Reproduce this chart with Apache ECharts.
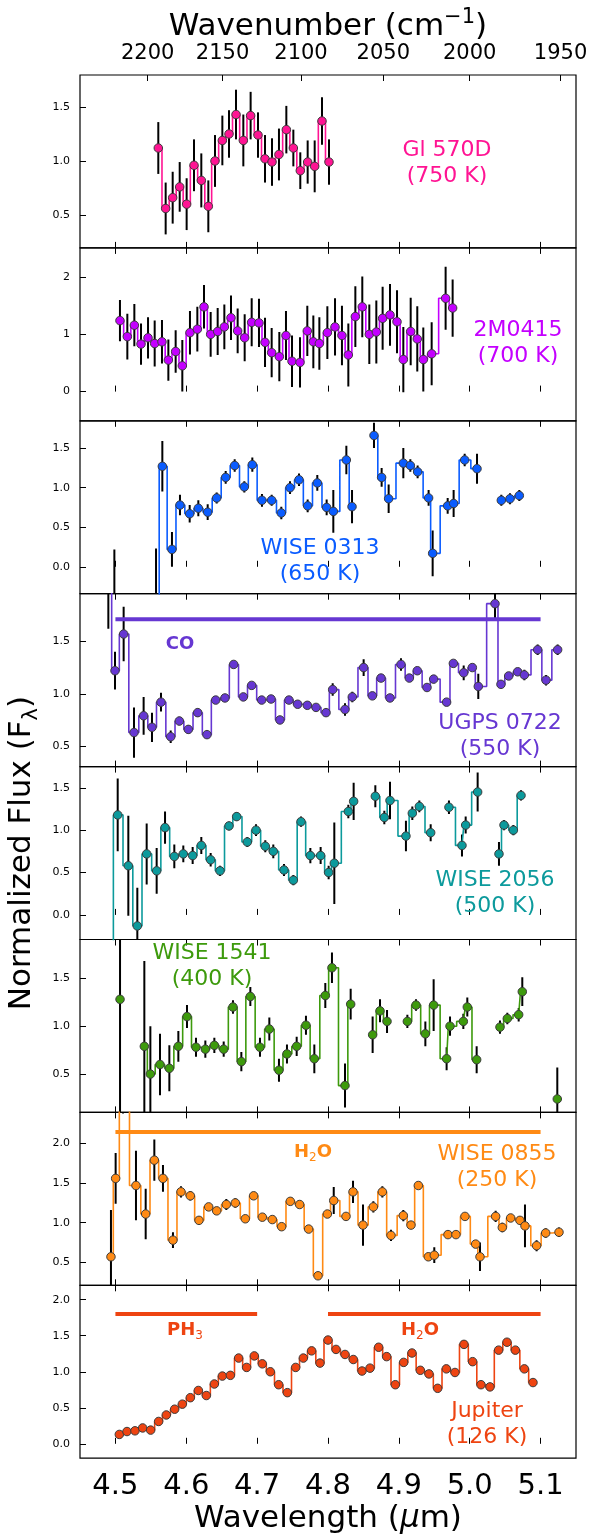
<!DOCTYPE html>
<html><head><meta charset="utf-8">
<script src="https://cdn.jsdelivr.net/npm/echarts@6/dist/echarts.min.js"></script>
<style>html,body{margin:0;padding:0;background:#fff}#chart{width:592px;height:1537px}</style>
</head><body><div id="chart"></div>
<script>
// ---------------- data (wavelength in micron, normalized flux, 1-sigma error; null = gap) ----------------
const gl570dWave = [4.5605, 4.5709, 4.5808, 4.5907, 4.6005, 4.6109, 4.6212, 4.6311, 4.6405, 4.6509, 4.6603, 4.6702, 4.6805, 4.6908, 4.7012, 4.7111, 4.7210, 4.7308, 4.7412, 4.7511, 4.7609, 4.7713, 4.7812, 4.7915, 4.8014];
const gl570dFlux = [1.12, 0.56, 0.66, 0.76, 0.60, 0.96, 0.82, 0.58, 1.00, 1.19, 1.25, 1.43, 1.19, 1.42, 1.24, 1.02, 0.99, 1.06, 1.29, 1.12, 0.91, 0.99, 0.95, 1.37, 0.99];
const gl570dErr  = [0.24, 0.24, 0.24, 0.23, 0.24, 0.24, 0.25, 0.24, 0.24, 0.23, 0.22, 0.23, 0.24, 0.22, 0.21, 0.22, 0.22, 0.24, 0.22, 0.17, 0.17, 0.20, 0.24, 0.22, 0.21];

const m0415Wave = [4.5064, 4.5168, 4.5267, 4.5361, 4.5460, 4.5554, 4.5657, 4.5747, 4.5850, 4.5944, 4.6052, 4.6156, 4.6250, 4.6344, 4.6443, 4.6537, 4.6631, 4.6725, 4.6824, 4.6923, 4.7026, 4.7111, 4.7205, 4.7313, 4.7407, 4.7492, 4.7605, 4.7708, 4.7793, 4.7878, 4.7991, 4.8099, 4.8197, 4.8287, 4.8386, 4.8484, 4.8583, 4.8682, 4.8771, 4.8875, 4.8974, 4.9063, 4.9167, 4.9260, 4.9345, 4.9463, 4.9660, 4.9759];
const m0415Flux = [1.24, 0.96, 1.16, 0.83, 0.94, 0.84, 0.87, 0.55, 0.70, 0.45, 1.03, 1.09, 1.48, 1.00, 1.05, 1.13, 1.29, 1.06, 0.94, 1.21, 1.20, 0.86, 0.68, 0.61, 0.98, 0.53, 0.51, 1.06, 0.87, 0.84, 1.03, 1.13, 0.98, 0.64, 1.31, 1.48, 1.00, 1.04, 1.28, 1.34, 1.22, 0.56, 1.05, 0.92, 0.56, 0.66, 1.63, 1.46];
const m0415Err  = [0.36, 0.40, 0.37, 0.36, 0.36, 0.40, 0.38, 0.36, 0.37, 0.45, 0.38, 0.39, 0.38, 0.39, 0.41, 0.39, 0.39, 0.39, 0.41, 0.42, 0.42, 0.43, 0.43, 0.43, 0.43, 0.45, 0.44, 0.44, 0.46, 0.46, 0.46, 0.50, 0.52, 0.55, 0.53, 0.53, 0.52, 0.55, 0.55, 0.54, 0.55, 0.57, 0.59, 0.57, 0.56, 0.55, 0.55, 0.50];

const w0313Wave = [4.4985, 4.5573, 4.5662, 4.5798, 4.5911, 4.6048, 4.6170, 4.6302, 4.6429, 4.6556, 4.6683, 4.6819, 4.6932, 4.7068, 4.7205, 4.7341, 4.7464, 4.7591, 4.7713, 4.7849, 4.7981, 4.8075, 4.8259, 4.8339, null, 4.8649, 4.8757, 4.8856, 4.9063, 4.9162, 4.9265, 4.9420, 4.9477, 4.9689, 4.9773, 4.9929, 5.0103, null, 5.0446, 5.0568, 5.0700];
const w0313Flux = [-0.80, -0.70, 1.27, 0.22, 0.78, 0.67, 0.74, 0.69, 0.87, 1.13, 1.28, 1.01, 1.29, 0.84, 0.84, 0.68, 1.00, 1.10, 0.77, 1.06, 0.75, 0.70, 1.35, 0.76, null, 1.66, 1.13, 0.86, 1.31, 1.28, 1.20, 0.87, 0.17, 0.77, 0.80, 1.35, 1.24, null, 0.84, 0.86, 0.90];
const w0313Err  = [1.02, 0.93, 0.32, 0.22, 0.13, 0.11, 0.10, 0.10, 0.07, 0.08, 0.08, 0.07, 0.09, 0.08, 0.07, 0.08, 0.08, 0.08, 0.08, 0.10, 0.10, 0.27, 0.18, 0.21, null, 0.16, 0.12, 0.18, 0.19, 0.08, 0.08, 0.10, 0.29, 0.10, 0.17, 0.08, 0.19, null, 0.07, 0.07, 0.07];

const ugpsWave = [4.4900, 4.4994, 4.5116, 4.5262, 4.5398, 4.5516, 4.5643, 4.5780, 4.5902, 4.6029, 4.6161, 4.6292, 4.6415, 4.6546, 4.6669, 4.6805, 4.6923, 4.7064, 4.7196, 4.7322, 4.7449, 4.7572, 4.7708, 4.7831, 4.7972, 4.8066, 4.8240, 4.8343, 4.8503, 4.8626, 4.8748, 4.8875, 4.9030, 4.9148, 4.9260, 4.9397, 4.9491, 4.9674, 4.9769, 4.9915, 5.0037, 5.0121, 5.0357, 5.0441, 5.0550, 5.0677, 5.0771, 5.0959, 5.1077, 5.1241];
const ugpsFlux = [2.10, 1.22, 1.57, 0.63, 0.79, 0.68, 0.92, 0.59, 0.74, 0.66, 0.82, 0.61, 0.94, 0.96, 1.28, 0.97, 1.08, 0.94, 0.95, 0.75, 0.94, 0.90, 0.89, 0.87, 0.82, 1.04, 0.85, 0.97, 1.25, 0.98, 1.15, 0.96, 1.28, 1.15, 1.22, 1.06, 1.14, 0.92, 1.29, 1.20, 1.25, 1.07, 1.86, 1.09, 1.17, 1.21, 1.18, 1.42, 1.13, 1.42];
const ugpsErr  = [0.48, 0.18, 0.26, 0.24, 0.18, 0.14, 0.09, 0.06, 0.04, 0.04, 0.04, 0.04, 0.03, 0.03, 0.03, 0.03, 0.03, 0.03, 0.03, 0.03, 0.03, 0.03, 0.03, 0.03, 0.03, 0.06, 0.06, 0.05, 0.08, 0.03, 0.03, 0.03, 0.06, 0.03, 0.03, 0.03, 0.04, 0.03, 0.03, 0.07, 0.03, 0.12, 0.14, 0.03, 0.03, 0.03, 0.05, 0.05, 0.05, 0.05];

const w2056Wave = [4.4910, 4.5032, 4.5182, 4.5309, 4.5441, 4.5582, 4.5700, 4.5831, 4.5958, 4.6090, 4.6212, 4.6344, 4.6476, 4.6603, 4.6711, 4.6861, 4.6984, 4.7115, 4.7228, 4.7379, 4.7511, 4.7619, 4.7751, 4.7896, 4.8009, 4.8089, 4.8287, 4.8362, null, 4.8668, 4.8795, 4.8875, 4.9100, 4.9190, 4.9289, 4.9449, null, 4.9707, 4.9891, 4.9943, 5.0112, null, 5.0413, 5.0484, 5.0616, 5.0724];
const w2056Flux = [-0.60, 1.18, 0.58, -0.13, 0.72, 0.52, 1.03, 0.69, 0.72, 0.70, 0.82, 0.65, 0.52, 1.05, 1.16, 0.86, 1.00, 0.81, 0.75, 0.53, 0.41, 1.10, 0.70, 0.70, 0.50, 0.61, 1.22, 1.34, null, 1.40, 1.15, 1.35, 0.93, 1.20, 1.28, 0.97, null, 1.27, 0.82, 1.06, 1.45, null, 0.72, 1.06, 1.00, 1.41];
const w2056Err  = [0.20, 0.43, 0.59, 0.45, 0.36, 0.27, 0.19, 0.14, 0.10, 0.10, 0.10, 0.08, 0.06, 0.05, 0.05, 0.06, 0.07, 0.07, 0.08, 0.07, 0.06, 0.06, 0.09, 0.10, 0.08, 0.48, 0.08, 0.22, null, 0.13, 0.08, 0.22, 0.18, 0.08, 0.07, 0.10, null, 0.08, 0.13, 0.10, 0.23, null, 0.14, 0.06, 0.06, 0.06];

const w1541Wave = [4.5065, null, 4.5408, 4.5493, 4.5629, 4.5761, 4.5888, 4.6010, 4.6137, 4.6269, 4.6396, 4.6528, 4.6659, 4.6777, 4.6904, 4.7040, 4.7172, 4.7308, 4.7421, 4.7558, 4.7689, 4.7807, 4.7962, 4.8056, 4.8240, 4.8320, null, 4.8630, 4.8734, 4.8833, null, 4.9120, 4.9242, 4.9374, 4.9491, 4.9674, 4.9722, 4.9910, 4.9966, 5.0098, null, 5.0427, 5.0531, 5.0691, 5.0742, null, 5.1236];
const w1541Flux = [1.28, null, 0.79, 0.50, 0.60, 0.56, 0.79, 1.10, 0.78, 0.76, 0.80, 0.76, 1.20, 0.63, 1.31, 0.78, 0.97, 0.54, 0.71, 0.79, 1.01, 0.66, 1.32, 1.61, 0.38, 1.23, null, 0.91, 1.16, 1.05, null, 1.05, 1.22, 0.92, 1.22, 0.66, 1.00, 1.05, 1.20, 0.65, null, 0.99, 1.08, 1.12, 1.36, null, 0.24];
const w1541Err  = [1.20, null, 0.89, 0.50, 0.32, 0.24, 0.16, 0.12, 0.10, 0.09, 0.08, 0.08, 0.07, 0.10, 0.10, 0.10, 0.12, 0.12, 0.10, 0.10, 0.10, 0.15, 0.13, 0.16, 0.23, 0.16, null, 0.19, 0.12, 0.12, null, 0.07, 0.06, 0.13, 0.27, 0.12, 0.10, 0.08, 0.10, 0.14, null, 0.07, 0.06, 0.07, 0.15, null, 0.33];

const w0855Wave = [4.4937, 4.5003, 4.5107, 4.5290, 4.5427, 4.5549, 4.5671, 4.5812, 4.5925, 4.6057, 4.6179, 4.6316, 4.6429, 4.6565, 4.6692, 4.6833, 4.6951, 4.7073, 4.7214, 4.7346, 4.7468, 4.7600, 4.7727, 4.7859, 4.7991, 4.8081, 4.8254, 4.8353, 4.8494, 4.8640, 4.8767, 4.8889, 4.9063, 4.9171, 4.9275, 4.9416, 4.9500, 4.9693, 4.9806, 4.9933, 5.0084, 5.0145, 5.0366, 5.0460, 5.0578, 5.0709, 5.0780, 5.0944, 5.1072, 5.1260];
const w0855Flux = [0.57, 1.56, 3.00, 1.47, 1.11, 1.79, 1.56, 0.78, 1.39, 1.34, 1.03, 1.20, 1.15, 1.23, 1.25, 1.05, 1.34, 1.07, 1.04, 0.95, 1.27, 1.23, 0.92, 0.33, 1.11, 1.28, 1.08, 1.39, 0.97, 1.20, 1.39, 0.84, 1.09, 0.97, 1.47, 0.57, 0.59, 0.85, 0.85, 1.08, 0.73, 0.57, 1.08, 0.94, 1.06, 1.03, 0.96, 0.71, 0.87, 0.88];
const w0855Err  = [0.59, 0.32, 0.62, 0.44, 0.32, 0.26, 0.17, 0.10, 0.07, 0.06, 0.05, 0.04, 0.04, 0.07, 0.06, 0.04, 0.04, 0.04, 0.04, 0.04, 0.04, 0.04, 0.04, 0.04, 0.04, 0.17, 0.04, 0.14, 0.26, 0.07, 0.07, 0.07, 0.07, 0.05, 0.04, 0.05, 0.10, 0.04, 0.04, 0.04, 0.05, 0.18, 0.07, 0.06, 0.04, 0.04, 0.27, 0.07, 0.06, 0.06];

const jupiterWave = [4.5055, 4.5163, 4.5276, 4.5384, 4.5497, 4.5610, 4.5718, 4.5836, 4.5944, 4.6057, 4.6170, 4.6283, 4.6396, 4.6509, 4.6622, 4.6739, 4.6852, 4.6960, 4.7073, 4.7186, 4.7304, 4.7426, 4.7544, 4.7652, 4.7769, 4.7887, 4.8000, 4.8113, 4.8240, 4.8357, 4.8480, 4.8593, 4.8715, 4.8828, 4.8950, 4.9068, 4.9185, 4.9303, 4.9425, 4.9548, 4.9670, 4.9792, 4.9919, 5.0041, 5.0159, 5.0286, 5.0408, 5.0526, 5.0644, 5.0771, 5.0893];
const jupiterFlux = [0.13, 0.17, 0.18, 0.22, 0.19, 0.31, 0.40, 0.48, 0.55, 0.64, 0.74, 0.67, 0.83, 0.94, 0.95, 1.19, 1.06, 1.22, 1.11, 1.00, 0.82, 0.71, 1.06, 1.19, 1.29, 1.12, 1.44, 1.31, 1.24, 1.17, 1.01, 1.05, 1.34, 1.21, 0.82, 1.13, 1.26, 1.02, 0.97, 0.77, 1.04, 0.99, 1.38, 1.14, 0.82, 0.79, 1.30, 1.41, 1.30, 1.04, 0.85];
const jupiterErr  = [0.02, 0.02, 0.02, 0.02, 0.02, 0.02, 0.02, 0.02, 0.02, 0.02, 0.02, 0.02, 0.02, 0.02, 0.02, 0.02, 0.02, 0.02, 0.02, 0.02, 0.02, 0.02, 0.02, 0.02, 0.02, 0.02, 0.02, 0.02, 0.02, 0.02, 0.02, 0.02, 0.02, 0.02, 0.02, 0.02, 0.02, 0.02, 0.02, 0.02, 0.02, 0.02, 0.02, 0.02, 0.02, 0.02, 0.02, 0.02, 0.02, 0.02, 0.02];

// absorption band markers: [start, end] wavelength and flux level
const coBandRange = [4.5, 5.1];        const coBandLevel = 1.71;
const h2oBand0855Range = [4.5, 5.1];   const h2oBand0855Level = 2.145;
const ph3BandRange = [4.5, 4.7];       const ph3BandLevel = 1.80;
const h2oBandJupRange = [4.8, 5.1];    const h2oBandJupLevel = 1.80;

// tick labels
const xTickValues = [4.5, 4.6, 4.7, 4.8, 4.9, 5.0, 5.1];
const wavenumberTicks = [2200, 2150, 2100, 2050, 2000, 1950];
const yTicksGl570d = [0.5, 1.0, 1.5];
const yTicks0415 = [0, 1, 2];
const yTicks0313 = [0.0, 0.5, 1.0, 1.5];
const yTicksUgps = [0.5, 1.0, 1.5];
const yTicks2056 = [0.0, 0.5, 1.0, 1.5];
const yTicks1541 = [0.5, 1.0, 1.5];
const yTicks0855 = [0.5, 1.0, 1.5, 2.0];
const yTicksJupiter = [0.0, 0.5, 1.0, 1.5, 2.0];

// ---------------- layout & style ----------------
const FONT = 'DejaVu Sans';
const X_MIN = 4.45, X_MAX = 5.15;
const GRID_LEFT = 80, GRID_WIDTH = 496, GRID_TOP = 75, GRID_H = 172.9;

const panels = [
  {label: 'Gl 570D\n(750 K)',   color: '#ff1493', wave: gl570dWave, flux: gl570dFlux, err: gl570dErr, yMin: 0.195, yMax: 1.796, yTicks: yTicksGl570d, dec: 1, lx: 447, ly: 163},
  {label: '2M0415\n(700 K)',    color: '#c400ff', wave: m0415Wave,  flux: m0415Flux,  err: m0415Err,  yMin: -0.51, yMax: 2.51,  yTicks: yTicks0415,   dec: 0, lx: 518, ly: 343},
  {label: 'WISE 0313\n(650 K)', color: '#0a5cff', wave: w0313Wave,  flux: w0313Flux,  err: w0313Err,  yMin: -0.34, yMax: 1.845, yTicks: yTicks0313,   dec: 1, lx: 320, ly: 561},
  {label: 'UGPS 0722\n(550 K)', color: '#6637d2', wave: ugpsWave,   flux: ugpsFlux,   err: ugpsErr,   yMin: 0.305, yMax: 1.955, yTicks: yTicksUgps,   dec: 1, lx: 500, ly: 736},
  {label: 'WISE 2056\n(500 K)', color: '#0c9a9c', wave: w2056Wave,  flux: w2056Flux,  err: w2056Err,  yMin: -0.29, yMax: 1.75,  yTicks: yTicks2056,   dec: 1, lx: 495, ly: 893},
  {label: 'WISE 1541\n(400 K)', color: '#3d9a0c', wave: w1541Wave,  flux: w1541Flux,  err: w1541Err,  yMin: 0.10,  yMax: 1.905, yTicks: yTicks1541,   dec: 1, lx: 212, ly: 966},
  {label: 'WISE 0855\n(250 K)', color: '#ff8a14', wave: w0855Wave,  flux: w0855Flux,  err: w0855Err,  yMin: 0.21,  yMax: 2.393, yTicks: yTicks0855,   dec: 1, lx: 497, ly: 1167},
  {label: 'Jupiter\n(126 K)',   color: '#ee4411', wave: jupiterWave, flux: jupiterFlux, err: jupiterErr, yMin: -0.2, yMax: 2.2,   yTicks: yTicksJupiter, dec: 1, lx: 487, ly: 1424}
];

const bands = [
  {panel: 3, range: coBandRange, level: coBandLevel, text: '{b|CO}', lx: 180, ly: 644},
  {panel: 6, range: h2oBand0855Range, level: h2oBand0855Level, text: '{b|H}{s|2}{b|O}', lx: 313, ly: 1152},
  {panel: 7, range: ph3BandRange, level: ph3BandLevel, text: '{b|PH}{s|3}', lx: 185, ly: 1330},
  {panel: 7, range: h2oBandJupRange, level: h2oBandJupLevel, text: '{b|H}{s|2}{b|O}', lx: 420, ly: 1330}
];

function splitSegments(wave, flux) {
  const segs = []; let cur = [];
  for (let k = 0; k < wave.length; k++) {
    if (wave[k] === null || flux[k] === null) { if (cur.length) segs.push(cur); cur = []; continue; }
    cur.push([wave[k], flux[k]]);
  }
  if (cur.length) segs.push(cur);
  return segs;
}

const grid = [], xAxis = [], yAxis = [], series = [], graphic = [];
const tickStyle = {color: '#000', width: 1};

panels.forEach((p, i) => {
  grid.push({left: GRID_LEFT, width: GRID_WIDTH, top: GRID_TOP + i * GRID_H, height: GRID_H,
    show: true, borderColor: '#000', borderWidth: 1.2, backgroundColor: 'transparent', outerBoundsMode: 'none'});

  // bottom wavelength axis
  xAxis.push({
    gridIndex: i, type: 'value', min: X_MIN, max: X_MAX, position: 'bottom',
    axisLine: {show: false}, splitLine: {show: false},
    axisTick: {show: true, inside: true, length: 6, lineStyle: tickStyle, customValues: xTickValues},
    axisLabel: {show: i === 7, customValues: xTickValues, fontSize: 29, margin: 14, color: '#000', fontFamily: FONT,
      formatter: v => v.toFixed(1)},
    name: i === 7 ? '{n|Wavelength (}{i|\u03bc}{n|m)}' : '',
    nameLocation: 'middle', nameGap: 41,
    nameTextStyle: {rich: {
      n: {fontSize: 31, fontFamily: FONT, color: '#000', lineHeight: 40},
      i: {fontSize: 31, fontFamily: FONT, color: '#000', lineHeight: 40, fontStyle: 'italic'}
    }}
  });

  // top axis (wavenumber for first panel, mirrored wavelength ticks elsewhere)
  if (i === 0) {
    const wnPos = wavenumberTicks.map(n => 10000 / n);
    xAxis.push({
      gridIndex: i, type: 'value', min: X_MIN, max: X_MAX, position: 'top',
      axisLine: {show: false}, splitLine: {show: false},
      axisTick: {show: true, inside: true, length: 6, lineStyle: tickStyle, customValues: wnPos},
      axisLabel: {show: true, customValues: wnPos, fontSize: 21, margin: 11, color: '#000', fontFamily: FONT,
        formatter: v => String(Math.round(10000 / v))},
      name: '{n|Wavenumber (cm}{p|\u22121}{n|)}',
      nameLocation: 'middle', nameGap: 28,
      nameTextStyle: {rich: {
        n: {fontSize: 31, fontFamily: FONT, color: '#000', lineHeight: 40},
        p: {fontSize: 21, fontFamily: FONT, color: '#000', lineHeight: 22, verticalAlign: 'top'}
      }}
    });
  } else {
    xAxis.push({
      gridIndex: i, type: 'value', min: X_MIN, max: X_MAX, position: 'top',
      axisLine: {show: false}, splitLine: {show: false},
      axisTick: {show: true, inside: true, length: 6, lineStyle: tickStyle, customValues: xTickValues},
      axisLabel: {show: false}
    });
  }

  yAxis.push({
    gridIndex: i, type: 'value', min: p.yMin, max: p.yMax,
    axisLine: {show: false}, splitLine: {show: false},
    axisTick: {show: true, inside: true, length: 6, lineStyle: tickStyle, customValues: p.yTicks},
    axisLabel: {show: true, customValues: p.yTicks, fontSize: 11, margin: 10, color: '#000', fontFamily: FONT,
      formatter: v => v.toFixed(p.dec)},
    name: i === 4 ? '{n|Normalized Flux (F}{s|\u03bb}{n|)}' : '',
    nameLocation: 'middle', nameGap: 34,
    nameTextStyle: {rich: {
      n: {fontSize: 31, fontFamily: FONT, color: '#000', lineHeight: 40},
      s: {fontSize: 21, fontFamily: FONT, color: '#000', lineHeight: 22, verticalAlign: 'bottom'}
    }}
  });

  const pts = [];
  for (let k = 0; k < p.wave.length; k++) {
    if (p.wave[k] !== null && p.flux[k] !== null) pts.push([p.wave[k], p.flux[k], p.err[k]]);
  }

  // error bars
  series.push({
    type: 'custom', xAxisIndex: 2 * i, yAxisIndex: i, data: pts, clip: true, z: 2, silent: true,
    encode: {x: 0, y: 1},
    renderItem: (params, api) => {
      const x = api.value(0), y = api.value(1), e = api.value(2);
      const cs = params.coordSys;
      const top = api.coord([x, y + e]), bot = api.coord([x, y - e]);
      if (top[0] < cs.x || top[0] > cs.x + cs.width) return null;
      const y1 = Math.max(cs.y, Math.min(cs.y + cs.height, top[1]));
      const y2 = Math.max(cs.y, Math.min(cs.y + cs.height, bot[1]));
      if (y1 === y2) return null;
      return {type: 'line', shape: {x1: top[0], y1: y1, x2: top[0], y2: y2},
        style: {stroke: '#000', lineWidth: 2}};
    }
  });

  // step lines
  splitSegments(p.wave, p.flux).forEach(seg => {
    series.push({
      type: 'line', xAxisIndex: 2 * i, yAxisIndex: i, data: seg, step: 'middle',
      showSymbol: false, symbol: 'none', clip: true, z: 3, silent: true,
      lineStyle: {color: p.color, width: 1.6}, animation: false
    });
  });

  // markers
  series.push({
    type: 'scatter', xAxisIndex: 2 * i, yAxisIndex: i, data: pts.map(q => [q[0], q[1]]),
    symbol: 'circle', symbolSize: 8.5, clip: true, z: 4, silent: true,
    itemStyle: {color: p.color, borderColor: '#3c3c3c', borderWidth: 1, opacity: 1}
  });

  graphic.push({type: 'text', x: p.lx, y: p.ly, z: 10,
    style: {text: p.label, fill: p.color, fontSize: 22, fontFamily: FONT, align: 'center', verticalAlign: 'middle', lineHeight: 26}});
});

bands.forEach(b => {
  const c = panels[b.panel].color;
  series.push({
    type: 'line', xAxisIndex: 2 * b.panel, yAxisIndex: b.panel,
    data: [[b.range[0], b.level], [b.range[1], b.level]],
    showSymbol: false, symbol: 'none', z: 5, silent: true,
    lineStyle: {color: c, width: 4, cap: 'butt'}
  });
  graphic.push({type: 'text', x: b.lx, y: b.ly, z: 10,
    style: {text: b.text, align: 'center', verticalAlign: 'middle',
      rich: {
        b: {fontSize: 18, fontWeight: 'bold', fontFamily: FONT, color: c, fill: c, lineHeight: 24},
        s: {fontSize: 12, fontWeight: 'normal', fontFamily: FONT, color: c, fill: c, lineHeight: 14, verticalAlign: 'bottom'}
      }}});
});

const chart = echarts.init(document.getElementById('chart'), null, {renderer: 'canvas'});
chart.setOption({
  animation: false,
  backgroundColor: '#fff',
  textStyle: {fontFamily: FONT, color: '#000'},
  grid, xAxis, yAxis, series, graphic
});
</script>
</body></html>
